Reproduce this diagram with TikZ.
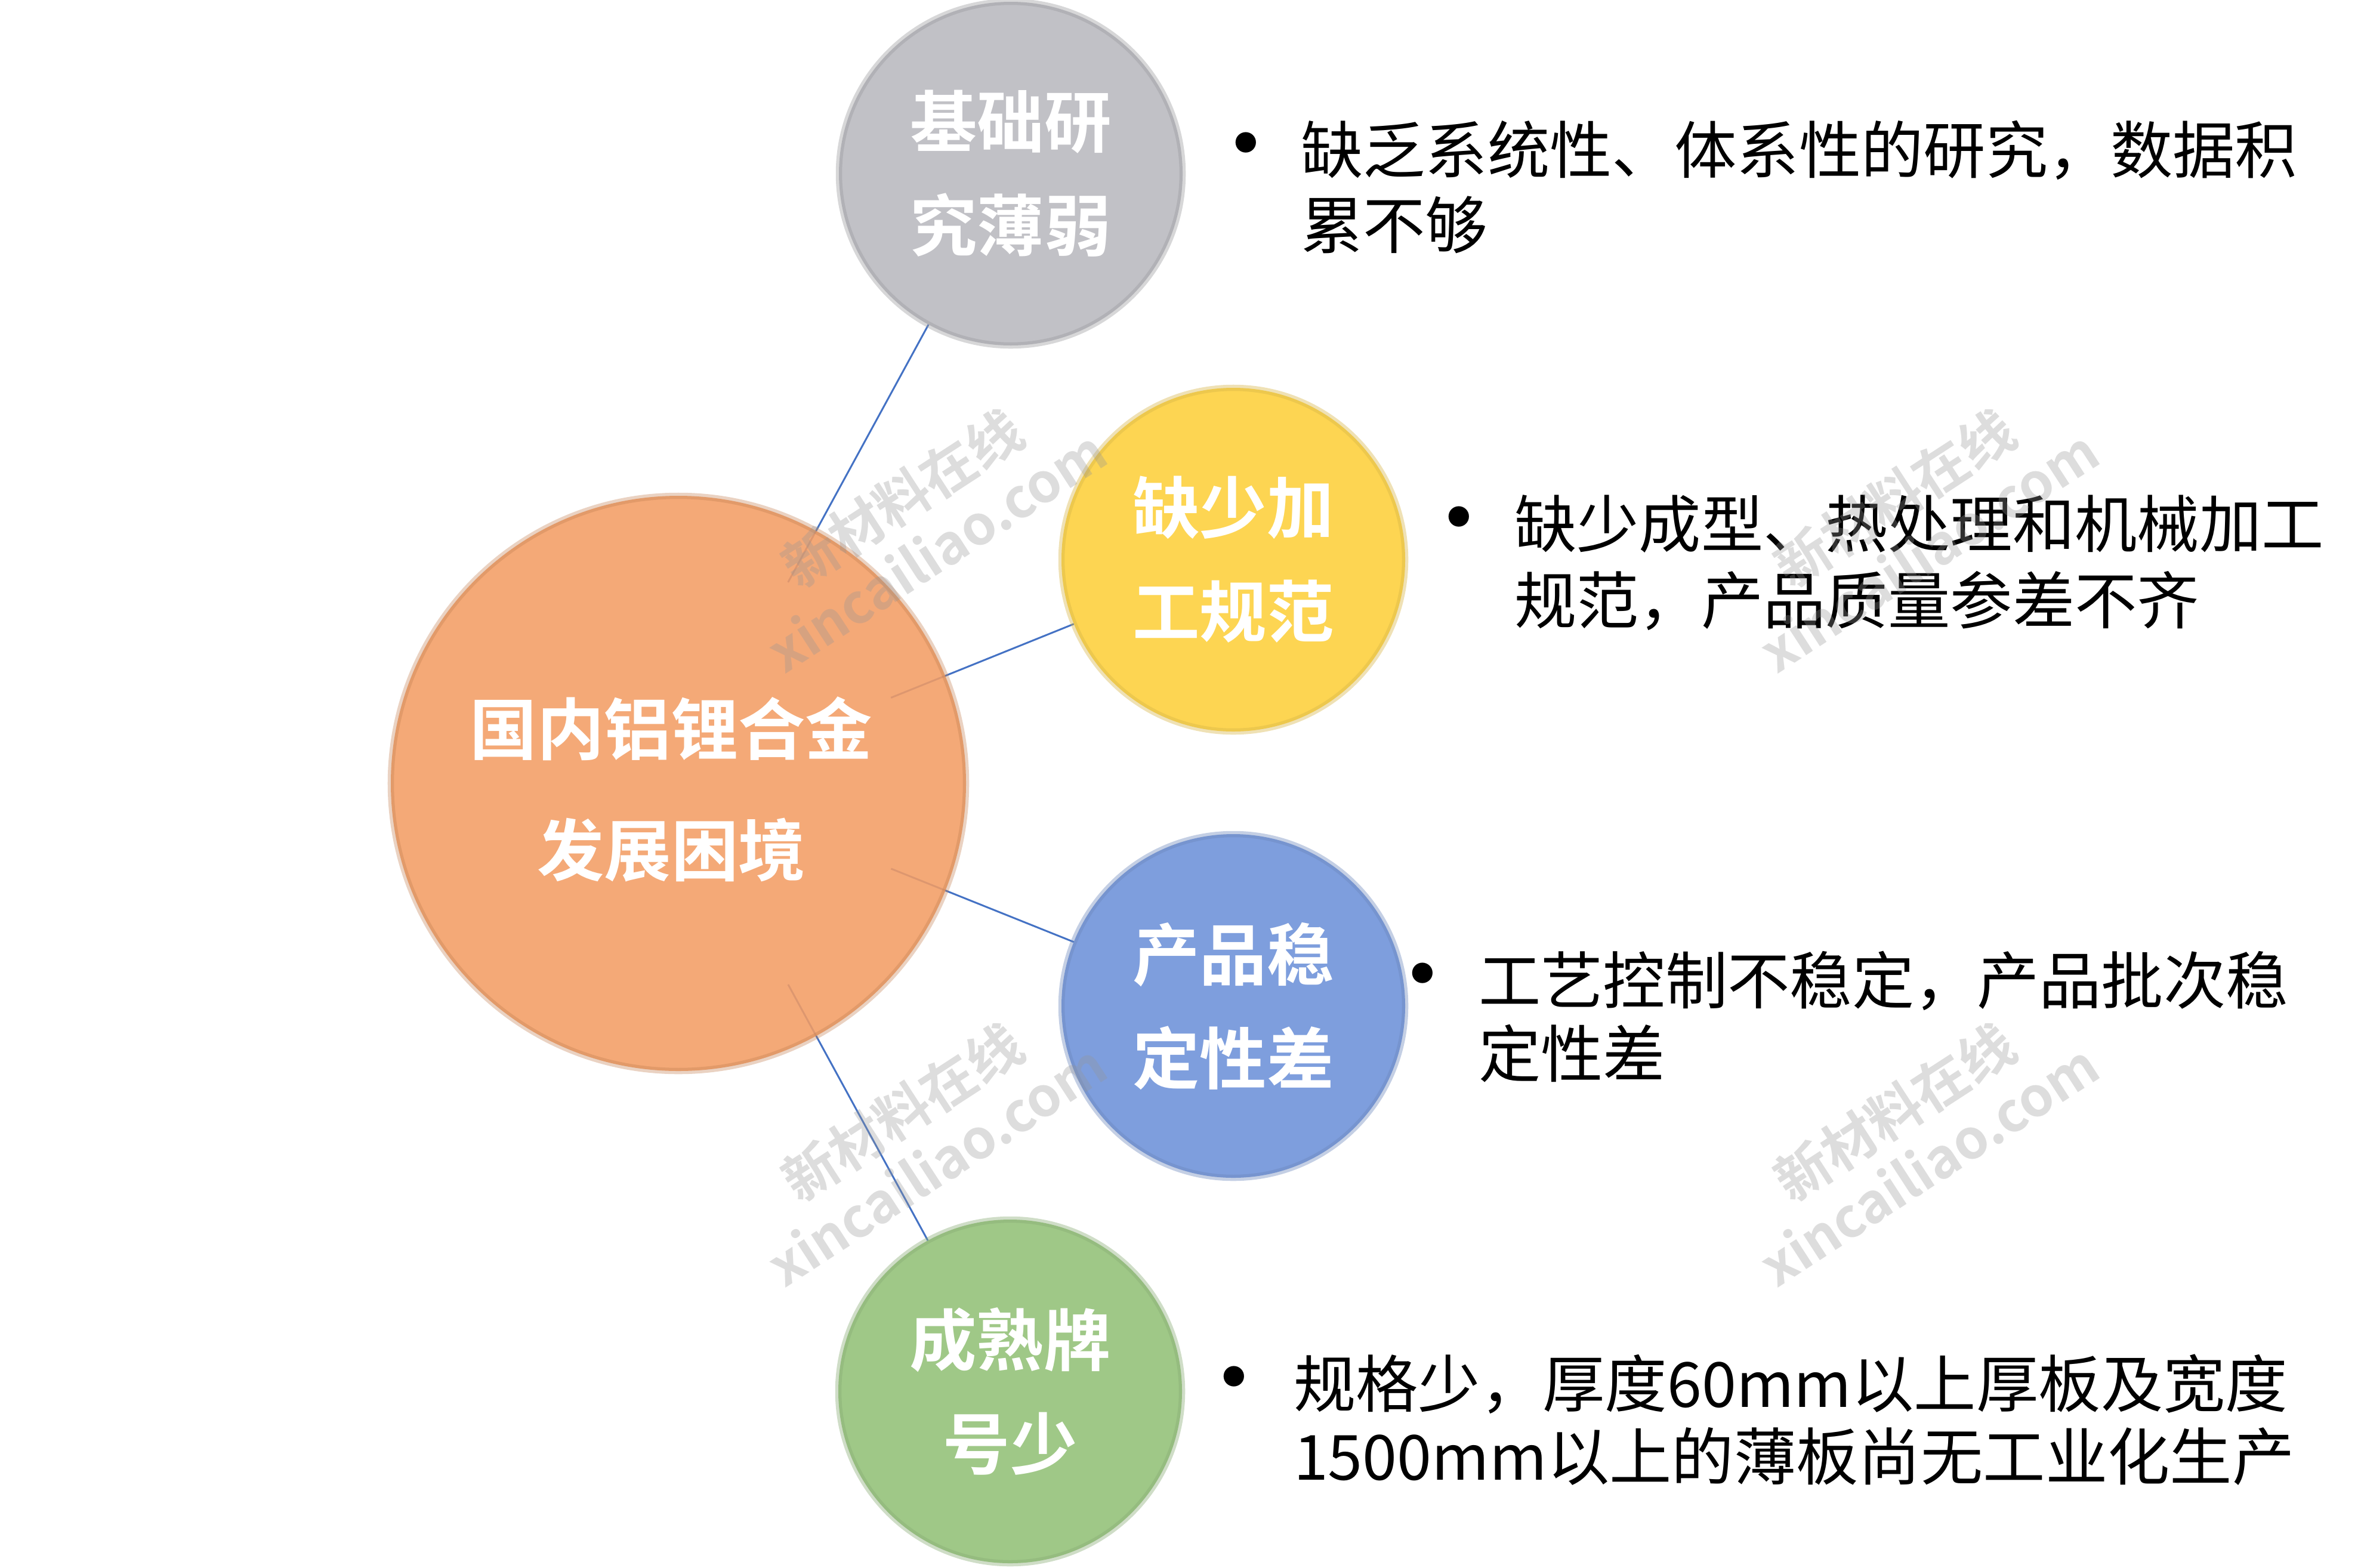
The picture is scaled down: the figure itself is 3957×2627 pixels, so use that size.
\documentclass[tikz,border=0pt]{standalone}
\usepackage{fontspec}
\newfontfamily\cjk[BoldFont={Noto Sans CJK SC Bold}]{Noto Sans CJK SC}
\usetikzlibrary{calc}
\pgfdeclarelayer{bg}
\pgfsetlayers{bg,main}
\definecolor{cgray}{RGB}{193,193,198}
\definecolor{cyellow}{RGB}{253,213,82}
\definecolor{cblue}{RGB}{126,158,221}
\definecolor{cgreen}{RGB}{159,200,135}
\definecolor{corange}{RGB}{243,157,100}
\definecolor{clink}{RGB}{68,114,196}
\definecolor{cwm}{RGB}{150,150,150}
\begin{document}
\begin{tikzpicture}[x=0.1mm,y=-0.1mm,
  ball/.style={circle, minimum size=57.6mm, inner sep=0pt, outer sep=0pt,
    text=white, align=center, line width=3,
    font=\cjk\bfseries\fontsize{32pt}{49.5pt}\selectfont},
  bigball/.style={circle, minimum size=96.4mm, inner sep=0pt, outer sep=0pt,
    line width=3, fill=corange, fill opacity=0.88,
    draw=corange!80!black, draw opacity=0.35},
  bigtext/.style={inner sep=0pt, outer sep=0pt, text=white, align=center,
    font=\cjk\bfseries\fontsize{32pt}{57.5pt}\selectfont},
  desc/.style={inner sep=0pt, outer sep=0pt, text=black,
    font=\cjk\fontsize{29.7pt}{36pt}\selectfont},
  bul/.style={inner sep=0pt, outer sep=0pt, text=black, anchor=base,
    font=\cjk\fontsize{46pt}{50pt}\selectfont},
  link/.style={draw=clink, line width=0.3mm},
  wm/.style={rotate=33, text=cwm, text opacity=0.32, align=center,
    font=\cjk\bfseries\fontsize{26pt}{30pt}\selectfont}]
\useasboundingbox (0,0) rectangle (3957,2627);

% central node
\node[bigball] (o) at (1137,1313) {};
\node[bigtext] (ot) at (1125,1323) {国内铝锂合金\\发展困境};

% satellites
\node[ball, fill=cgray, draw=cgray!80!black, draw opacity=0.4] (g) at (1694,291) {基础研\\究薄弱};
\node[ball, fill=cyellow, draw=cyellow!85!black, draw opacity=0.4] (y) at (2067,938) {缺少加\\工规范};
\node[ball, fill=cblue, draw=cblue!85!black, draw opacity=0.4] (b) at (2067,1686) {产品稳\\定性差};
\node[ball, fill=cgreen, draw=cgreen!85!black, draw opacity=0.4] (n) at (1693,2332) {成熟牌\\号少};

% connectors
\begin{pgfonlayer}{bg}
\draw[link] ($(o)!38.4mm!(g)$) -- (g);
\draw[link] ($(o)!38.4mm!(y)$) -- (y);
\draw[link] ($(o)!38.4mm!(b)$) -- (b);
\draw[link] ($(o)!38.4mm!(n)$) -- (n);
\end{pgfonlayer}

% descriptions
\node[bul] (p1) at (2088,300) {•};
\node[desc, anchor=base west] (d1a) at (2180,290) {缺乏系统性、体系性的研究，数据积};
\node[desc, anchor=base west] (d1b) at (2180,416) {累不够};

\node[bul] (p2) at (2445,927) {•};
\node[desc, anchor=base west] (d2a) at (2538,917) {缺少成型、热处理和机械加工};
\node[desc, anchor=base west] (d2b) at (2538,1045) {规范，产品质量参差不齐};

\node[bul] (p3) at (2384,1692) {•};
\node[desc, anchor=base west] (d3a) at (2478,1682) {工艺控制不稳定，产品批次稳};
\node[desc, anchor=base west] (d3b) at (2478,1805) {定性差};

\node[bul] (p4) at (2068,2368) {•};
\node[desc, anchor=base west] (d4a) at (2168,2358) {规格少，厚度60mm以上厚板及宽度};
\node[desc, anchor=base west] (d4b) at (2168,2480) {1500mm以上的薄板尚无工业化生产};

% watermarks
\node[wm] (w1) at (1539,876) {新材料在线\\xincailiao.com};
\node[wm] (w2) at (3202,876) {新材料在线\\xincailiao.com};
\node[wm] (w3) at (1539,1905) {新材料在线\\xincailiao.com};
\node[wm] (w4) at (3202,1905) {新材料在线\\xincailiao.com};
\end{tikzpicture}
\end{document}
